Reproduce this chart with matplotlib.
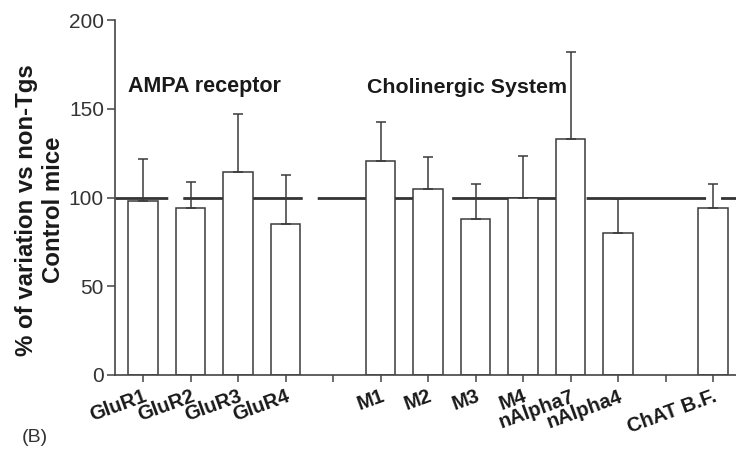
import numpy as np
import matplotlib
matplotlib.use("Agg")
import matplotlib.pyplot as plt
from matplotlib.transforms import ScaledTranslation

plt.rcParams['font.family'] = ['Liberation Sans', 'DejaVu Sans']
plt.rcParams['lines.scale_dashes'] = False

# ---- data ----
categories = ['GluR1', 'GluR2', 'GluR3', 'GluR4', '',
              'M1', 'M2', 'M3', 'M4', 'nAlpha7', 'nAlpha4', '',
              'ChAT B.F.']
values = [98, 94, 114.5, 85, np.nan,
          120.7, 104.6, 87.7, 100, 132.8, 79.8, np.nan,
          94]
errors = [23.5, 15, 32.5, 27.7, np.nan,
          22, 18.2, 20.1, 23.5, 49.2, 19.2, np.nan,
          13.8]
control_level = 100
yticks = [0, 50, 100, 150, 200]
group_titles = ['AMPA receptor', 'Cholinergic System']

# ---- figure ----
fig = plt.figure(figsize=(7.36, 4.50), dpi=100)
ax = fig.add_axes([115 / 736, 75 / 450, 1 - 115 / 736, 355 / 450])

x = np.arange(len(categories))
vals = np.array(values, dtype=float)
errs = np.array(errors, dtype=float)
mask = ~np.isnan(vals)

edge = '#3a3a3a'

# dashed reference line (behind bars)
line = ax.axhline(control_level, color='#333333', lw=2.0, zorder=1)
line.set_linestyle((48.0, (86.0, 10.8)))

ax.bar(x[mask], vals[mask], width=0.62, color='white', edgecolor=edge,
       linewidth=1.1, zorder=2,
       yerr=[np.zeros(mask.sum()), errs[mask]],
       error_kw=dict(ecolor=edge, elinewidth=1.1, capsize=3.7, capthick=1.1,
                     zorder=3))

ax.set_xlim(-0.59, 12.48)
ax.set_ylim(0, 200)
ax.set_yticks(yticks)
ax.set_xticks(x)
ax.set_xticklabels(categories, rotation=20, ha='right', va='top',
                   rotation_mode='anchor', fontsize=14.5, fontweight='bold',
                   color='#1a1a1a')
offset = ScaledTranslation(5 / 100, -7 / 100, fig.dpi_scale_trans)
for lab in ax.get_xticklabels():
    lab.set_transform(lab.get_transform() + offset)

ax.tick_params(axis='y', direction='out', length=6, width=1.1, colors='#444444',
               labelsize=15, pad=2, labelcolor='#333333')
ax.tick_params(axis='x', direction='out', length=5, width=1.1, colors='#444444',
               labelcolor='#1a1a1a')

for s in ['top', 'right']:
    ax.spines[s].set_visible(False)
for s in ['left', 'bottom']:
    ax.spines[s].set_color('#444444')
    ax.spines[s].set_linewidth(1.2)

ax.set_ylabel('% of variation vs non-Tgs\nControl mice', fontsize=17.3,
              fontweight='bold', color='#1a1a1a', va='center', ha='center',
              multialignment='center', linespacing=1.25)
ax.yaxis.set_label_coords(-0.121, 0.465)

ax.text(-0.32, 159.3, group_titles[0], fontsize=15.5, fontweight='bold',
        color='#1a1a1a', va='baseline', ha='left')
ax.text(4.72, 158.7, group_titles[1], fontsize=15.4, fontweight='bold',
        color='#1a1a1a', va='baseline', ha='left')

fig.text(22 / 736, 1 - 437 / 450, '(B)', fontsize=14, color='#333333',
         ha='left', va='center')

fig.savefig('out.png', dpi=100)
